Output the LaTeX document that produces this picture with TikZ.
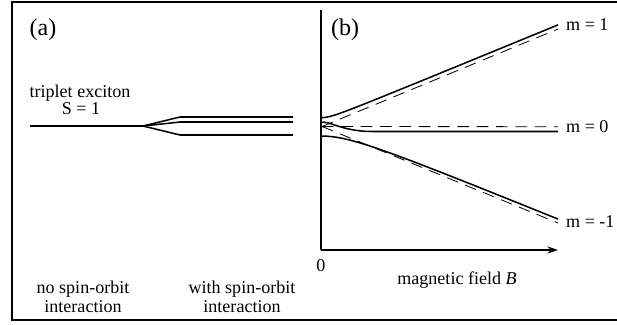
\documentclass[tikz,border=0pt]{standalone}
\usepackage{fontspec}
\setmainfont{Liberation Serif}
\usetikzlibrary{arrows.meta}

\begin{document}
\begin{tikzpicture}[x=0.03cm,y=-0.03cm,
	txt/.style={font=\fontsize{15.4}{16.5}\selectfont,inner sep=0pt},
	titre/.style={font=\fontsize{20.5}{22}\selectfont,inner sep=0pt},
	niveau/.style={line width=1.3pt},
	asymp/.style={line width=0.7pt,dash pattern=on 10pt off 6.5pt}]
	% Cadre
	\useasboundingbox (0,0) rectangle (617,324);
	\draw[line width=1pt] (630,2) -- (12,2) -- (12,320) -- (630,320);
	%
	% (a) niveaux sans champ
	\node[titre] (a) at (43,30) {(a)};
	\node[txt] (trip) at (80,93) {triplet exciton};
	\node[txt] (spin) at (81,109) {S = 1};
	\coordinate (g) at (30,126);
	\coordinate (s) at (143,126);
	\draw[niveau] (g) -- (s);
	\foreach \y in {117,122,135}{
		\draw[niveau] (s) -- (180,\y) -- (293,\y);
	};
	\node[txt,align=center] (sans) at (83,297) {no spin-orbit\\interaction};
	\node[txt,align=center] (avec) at (242,297) {with spin-orbit\\interaction};
	%
	% (b) axes
	\coordinate (O) at (321,250);
	\coordinate (Yh) at (321,10);
	\coordinate (Xd) at (558,250);
	\draw[line width=0.9pt] (Yh) -- (O);
	\draw[line width=0.9pt,-{Stealth[length=9pt,width=6pt]}] (O) -- (Xd);
	\node[txt] (zero) at (321,266) {0};
	\node[txt] (champ) at (457,280) {magnetic field\ \textit{B}};
	\node[titre] (b) at (345,30) {(b)};
	%
	% Asymptotes (Zeeman lineaire)
	\coordinate (Z) at (322,126.5);
	\foreach \n/\yf in {p/29,z/126.7,m/223}{
		\coordinate (f\n) at (558,\yf);
		\draw[asymp] (Z) -- (f\n);
	};
	%
	% Niveaux avec interaction spin-orbite
	\draw[niveau] plot[domain=0:237,samples=80,smooth] ({321+\x},{122.4-sqrt(22.1+(0.411*\x)^2)});
	\draw[niveau] plot[domain=0:237,samples=80,smooth] ({321+\x},{121+sqrt(225+(0.409*\x)^2)});
	\draw[niveau] (321,122.5) .. controls (328,120) and (342,131.5) .. (372,131.5) -- (558,131.5);
	%
	\node[txt,anchor=west] (m1) at (566,25) {m = 1};
	\node[txt,anchor=west] (m0) at (566,127) {m = 0};
	\node[txt,anchor=west] (mm) at (566,222) {m = -1};
\end{tikzpicture}
\end{document}
